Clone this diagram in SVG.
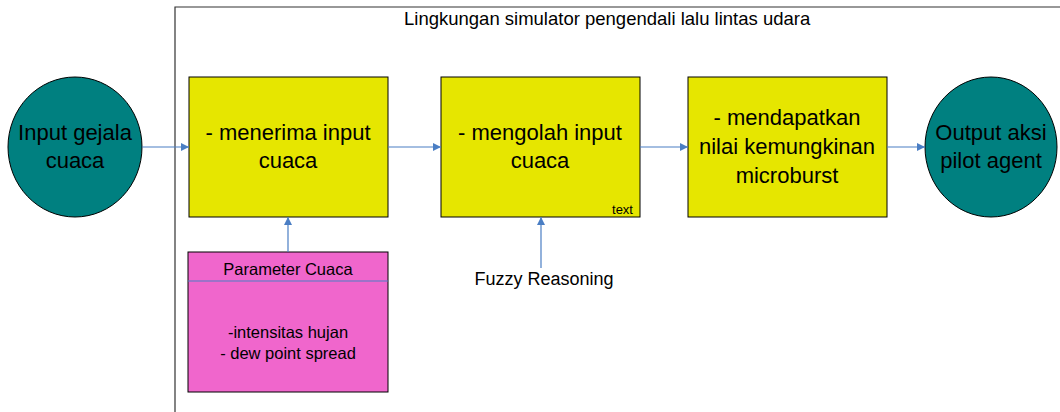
<svg xmlns="http://www.w3.org/2000/svg" width="1060" height="412" viewBox="0 0 1060 412">
<style>
text{font-family:"Liberation Sans",Arial,sans-serif;fill:#000}
.big{font-size:22px;text-anchor:middle}
.mid{font-size:16.5px;text-anchor:middle}
.circ{fill:#008080;stroke:#000;stroke-width:1}
.box{fill:#E6E600;stroke:#000;stroke-width:1}
.param{fill:#F066CC;stroke:#000;stroke-width:1}
.conn{stroke:#4A7EC4;stroke-width:1.2;fill:none;marker-end:url(#arr)}
</style>
<defs>
<marker id="arr" viewBox="0 0 10 10" refX="10" refY="5" markerWidth="10" markerHeight="8" markerUnits="userSpaceOnUse" orient="auto">
<path d="M0,0 L10,5 L0,10 z" fill="#4A7EC4"/>
</marker>
</defs>
<rect width="1060" height="412" fill="#fff"/>
<g id="frame">
<path d="M175,412 L175,7 L1060,7" fill="none" stroke="#333" stroke-width="1.2"/>
<text x="404" y="25" style="font-size:18.5px">Lingkungan simulator pengendali lalu lintas udara</text>
</g>
<g id="input">
<ellipse class="circ" cx="75" cy="147" rx="67" ry="70"/>
<text class="big" x="75" y="140">Input gejala</text>
<text class="big" x="75" y="168">cuaca</text>
</g>
<g id="box1">
<rect class="box" x="189" y="77" width="199" height="140"/>
<text class="big" x="288" y="140">- menerima input</text>
<text class="big" x="288" y="168">cuaca</text>
</g>
<g id="box2">
<rect class="box" x="441" y="77" width="199" height="140"/>
<text class="big" x="540" y="140">- mengolah input</text>
<text class="big" x="540" y="168">cuaca</text>
<text x="633" y="214" style="font-size:13px;text-anchor:end">text</text>
</g>
<g id="box3">
<rect class="box" x="688" y="77" width="199" height="140"/>
<text class="big" x="787" y="125">- mendapatkan</text>
<text class="big" x="787" y="154">nilai kemungkinan</text>
<text class="big" x="787" y="183">microburst</text>
</g>
<g id="output">
<ellipse class="circ" cx="991" cy="147" rx="66" ry="70"/>
<text class="big" x="991" y="140">Output aksi</text>
<text class="big" x="991" y="168">pilot agent</text>
</g>
<g id="param">
<rect class="param" x="188" y="252" width="200" height="140"/>
<line x1="188" y1="281" x2="388" y2="281" stroke="#4A7EC4" stroke-width="1.2"/>
<text class="mid" x="288" y="275">Parameter Cuaca</text>
<text class="mid" x="288" y="338">-intensitas hujan</text>
<text class="mid" x="288" y="359">- dew point spread</text>
</g>
<g id="fuzzy">
<text x="544" y="285" style="font-size:18px;text-anchor:middle">Fuzzy Reasoning</text>
</g>
<g id="connectors">
<line class="conn" x1="142" y1="147" x2="189" y2="147"/>
<line class="conn" x1="388" y1="147" x2="441" y2="147"/>
<line class="conn" x1="640" y1="147" x2="688" y2="147"/>
<line class="conn" x1="887" y1="147" x2="925" y2="147"/>
<line class="conn" x1="288" y1="252" x2="288" y2="217"/>
<line class="conn" x1="541" y1="268" x2="541" y2="217"/>
</g>
</svg>
